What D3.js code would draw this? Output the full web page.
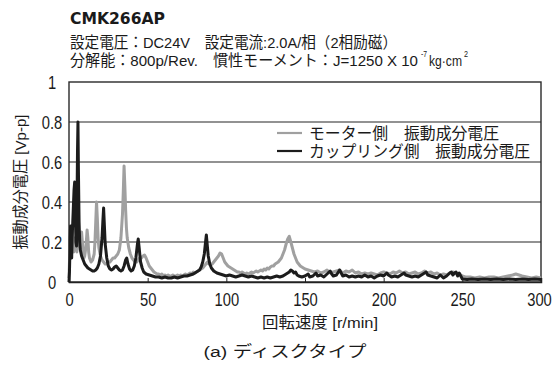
<!DOCTYPE html>
<html lang="ja">
<head>
<meta charset="UTF-8">
<title>CMK266AP</title>
<script src="https://cdn.jsdelivr.net/npm/d3@7"></script>
<style>
  body { margin: 0; background: #fff; }
  svg { display: block; }
  text { font-family: "Liberation Sans", "Noto Sans CJK JP", sans-serif; fill: #1a1a1a; }
</style>
</head>
<body>
<div id="chart"></div>
<script>
// tick values
const xTicks = [0, 50, 100, 150, 200, 250, 300];
const yTicks = [0, 0.2, 0.4, 0.6, 0.8, 1];

// モーター側 振動成分電圧  [r/min, Vp-p]
const motorSide = [
  [0,0.02],[0.5,0.15],[1,0.22],[1.5,0.18],[2,0.27],[2.5,0.2],[3,0.15],[3.5,0.22],[4,0.17],[4.5,0.2],
  [5,0.15],[5.5,0.2],[6,0.26],[6.5,0.18],[7,0.22],[7.5,0.17],[8,0.25],[8.5,0.2],[9,0.15],[9.5,0.12],
  [10,0.13],[10.5,0.16],[11,0.2],[11.5,0.26],[12,0.22],[12.5,0.15],[13,0.12],[14,0.1],[15,0.11],[16,0.14],
  [16.5,0.2],[17,0.3],[17.5,0.4],[18,0.32],[18.5,0.22],[19,0.17],[20,0.13],[21,0.11],[22,0.1],[23,0.09],
  [24,0.09],[25,0.1],[26,0.1],[27,0.11],[28,0.12],[29,0.12],[30,0.13],[31,0.14],[32,0.16],[33,0.22],
  [34,0.34],[34.5,0.45],[35,0.58],[35.5,0.48],[36,0.36],[36.5,0.27],[37,0.22],[38,0.17],[39,0.14],[40,0.12],
  [41,0.11],[42,0.1],[43,0.1],[44,0.11],[45,0.12],[46,0.12],[47,0.13],[48,0.135],[49,0.12],[50,0.1],
  [51,0.08],[52,0.07],[53,0.06],[54,0.05],[55,0.045],[56,0.04],[57,0.04],[58,0.035],[59,0.04],[60,0.03],
  [61,0.035],[62,0.03],[63,0.035],[64,0.03],[65,0.03],[66,0.035],[67,0.03],[68,0.03],[69,0.035],[70,0.03],
  [71,0.035],[72,0.03],[73,0.035],[74,0.04],[75,0.035],[76,0.04],[77,0.045],[78,0.04],[79,0.05],[80,0.045],
  [81,0.05],[82,0.055],[83,0.06],[84,0.065],[85,0.07],[86,0.08],[87,0.09],[88,0.1],[89,0.09],[90,0.085],
  [91,0.09],[92,0.1],[93,0.11],[94,0.12],[95,0.13],[96,0.145],[97,0.14],[98,0.12],[99,0.1],[100,0.09],
  [101,0.08],[102,0.075],[103,0.07],[104,0.065],[105,0.06],[106,0.055],[107,0.05],[108,0.05],[109,0.045],[110,0.05],
  [111,0.045],[112,0.04],[113,0.045],[114,0.04],[115,0.045],[116,0.05],[117,0.045],[118,0.05],[119,0.055],[120,0.05],
  [121,0.055],[122,0.06],[123,0.055],[124,0.065],[125,0.06],[126,0.07],[127,0.065],[128,0.075],[129,0.08],[130,0.08],
  [131,0.09],[132,0.095],[133,0.1],[134,0.11],[135,0.12],[136,0.14],[137,0.16],[138,0.19],[139,0.215],[140,0.228],
  [141,0.2],[142,0.17],[143,0.14],[144,0.12],[145,0.1],[146,0.09],[147,0.08],[148,0.075],[149,0.07],[150,0.065],
  [152,0.06],[154,0.055],[156,0.05],[158,0.055],[160,0.045],[162,0.05],[164,0.06],[166,0.045],[168,0.05],[170,0.055],
  [172,0.06],[174,0.045],[176,0.055],[178,0.05],[180,0.06],[182,0.045],[184,0.05],[186,0.04],[188,0.045],[190,0.04],
  [192,0.045],[194,0.04],[196,0.035],[198,0.045],[200,0.05],[202,0.045],[204,0.04],[206,0.05],[208,0.045],[210,0.055],
  [212,0.045],[214,0.05],[216,0.04],[218,0.045],[220,0.05],[222,0.04],[224,0.045],[226,0.055],[228,0.045],[230,0.05],
  [232,0.04],[234,0.045],[236,0.035],[238,0.04],[240,0.035],[242,0.045],[244,0.05],[246,0.045],[248,0.04],[250,0.03],
  [252,0.025],[255,0.025],[258,0.02],[261,0.025],[264,0.02],[267,0.025],[270,0.025],[273,0.02],[276,0.025],[279,0.03],
  [282,0.035],[284,0.04],[286,0.035],[288,0.03],[291,0.025],[294,0.02],[297,0.025],[300,0.02]
];

// カップリング側 振動成分電圧  [r/min, Vp-p]
const couplingSide = [
  [0,0],[0.3,0.05],[0.7,0.2],[1,0.28],[1.3,0.18],[1.7,0.12],[2,0.22],[2.4,0.3],[2.8,0.38],[3.2,0.46],
  [3.6,0.5],[4,0.35],[4.4,0.2],[4.8,0.18],[5.1,0.4],[5.4,0.65],[5.7,0.8],[6,0.55],[6.4,0.3],[6.8,0.2],
  [7.2,0.16],[8,0.13],[9,0.11],[10,0.09],[11,0.08],[12,0.07],[13,0.065],[14,0.06],[15,0.055],[16,0.055],
  [17,0.06],[18,0.07],[19,0.09],[20,0.13],[21,0.22],[21.5,0.3],[22,0.37],[22.5,0.28],[23,0.19],[24,0.12],
  [25,0.08],[26,0.065],[27,0.06],[28,0.065],[29,0.075],[30,0.08],[31,0.07],[32,0.06],[33,0.055],[34,0.06],
  [35,0.08],[36,0.11],[36.7,0.12],[37.5,0.09],[38.5,0.065],[39.5,0.055],[40.5,0.06],[41.5,0.08],[42.5,0.12],[43.5,0.19],
  [44,0.215],[44.6,0.17],[45.5,0.1],[46.5,0.07],[47.5,0.05],[49,0.04],[51,0.035],[53,0.03],[55,0.025],[57,0.025],
  [59,0.02],[61,0.025],[63,0.02],[65,0.02],[67,0.025],[69,0.02],[71,0.025],[73,0.03],[75,0.03],[77,0.035],
  [79,0.04],[81,0.05],[83,0.06],[84,0.075],[85,0.1],[86,0.14],[86.8,0.2],[87.3,0.235],[87.8,0.19],[88.5,0.13],
  [89.5,0.09],[90.5,0.07],[92,0.055],[94,0.045],[96,0.04],[98,0.035],[100,0.03],[102,0.035],[104,0.03],[106,0.025],
  [108,0.03],[110,0.035],[112,0.03],[114,0.025],[116,0.03],[118,0.025],[120,0.02],[122,0.025],[124,0.02],[126,0.025],
  [128,0.02],[130,0.025],[132,0.03],[134,0.025],[136,0.03],[138,0.04],[140,0.05],[141,0.06],[142,0.055],[143,0.045],
  [144,0.05],[145,0.035],[146,0.03],[148,0.025],[150,0.03],[152,0.04],[153,0.025],[155,0.03],[157,0.045],[158,0.03],
  [160,0.035],[162,0.025],[164,0.04],[166,0.055],[167,0.04],[168,0.03],[170,0.035],[172,0.06],[173,0.045],[174,0.03],
  [176,0.035],[178,0.025],[180,0.03],[182,0.025],[184,0.03],[186,0.025],[188,0.035],[190,0.025],[192,0.03],[194,0.02],
  [196,0.03],[198,0.035],[200,0.03],[202,0.045],[203,0.035],[205,0.025],[207,0.03],[209,0.025],[211,0.035],[213,0.045],
  [214,0.035],[216,0.03],[218,0.025],[220,0.03],[222,0.025],[224,0.035],[226,0.045],[227,0.05],[228,0.035],[230,0.03],
  [232,0.025],[234,0.02],[236,0.035],[238,0.02],[240,0.03],[242,0.045],[243,0.05],[244,0.035],[245,0.045],[246,0.05],
  [247,0.03],[248,0.045],[249,0.03],[250,0.015],[253,0.012],[256,0.015],[260,0.012],[264,0.015],[268,0.012],[272,0.015],
  [276,0.012],[280,0.015],[284,0.012],[288,0.015],[292,0.012],[296,0.015],[300,0.012]
];

const seriesNames = ["モーター側　振動成分電圧", "カップリング側　振動成分電圧"];
const seriesColors = ["#a0a0a0", "#1c1c1c"];

const W = 552, H = 369;
const plotL = 69, plotR = 541, plotT = 82, plotB = 282;

const svg = d3.select("#chart").append("svg")
  .attr("width", W).attr("height", H);

const x = d3.scaleLinear().domain([0, 300]).range([plotL, plotR]);
const y = d3.scaleLinear().domain([0, 1]).range([plotB, plotT]);

// plain text helper, squeezed to the measured width
function label(txt, px, py, len, size, anchor) {
  return svg.append("text")
    .attr("x", px).attr("y", py)
    .attr("text-anchor", anchor || "start")
    .attr("textLength", len).attr("lengthAdjust", "spacingAndGlyphs")
    .style("font-size", size + "px")
    .text(txt);
}

// header
svg.append("text")
  .attr("x", 70).attr("y", 24)
  .attr("textLength", 95).attr("lengthAdjust", "spacingAndGlyphs")
  .style("font-family", "'DejaVu Sans', sans-serif")
  .style("font-weight", "bold").style("font-size", "16px")
  .text("CMK266AP");

label("設定電圧：DC24V　設定電流:2.0A/相（2相励磁）", 70, 48, 327, 15.5);
label("分解能：800p/Rev.　慣性モーメント：J=1250 X 10", 70, 66, 348, 15.5);
label("-7", 421, 57, 6, 9);
label("kg·cm", 429, 66, 33, 15.5);
label("2", 464, 57, 4, 9);

// horizontal gridlines
svg.append("g").selectAll("line")
  .data(yTicks.filter(d => d > 0 && d < 1))
  .join("line")
  .attr("x1", plotL).attr("x2", plotR)
  .attr("y1", d => y(d)).attr("y2", d => y(d))
  .attr("stroke", "#6e6e6e").attr("stroke-width", 1.3);

// frame
svg.append("rect")
  .attr("x", plotL).attr("y", plotT)
  .attr("width", plotR - plotL).attr("height", plotB - plotT)
  .attr("fill", "none").attr("stroke", "#2a2a2a").attr("stroke-width", 1.4);

// bottom axis with inward ticks
const xAxis = svg.append("g")
  .attr("transform", `translate(0,${plotB})`)
  .call(d3.axisBottom(x).tickValues(xTicks).tickSize(-4).tickPadding(12).tickFormat(d3.format("d")));
xAxis.select(".domain").attr("stroke", "#222").attr("stroke-width", 1.5);
xAxis.selectAll(".tick line").attr("stroke", "#222");
xAxis.selectAll(".tick text")
  .attr("y", 0).attr("dy", 0)
  .attr("transform", (d, i) => `translate(${i === xTicks.length - 1 ? -2 : 0},24) scale(0.82,1)`)
  .style("font-size", "18px").style("fill", "#1a1a1a");

// left axis labels
const yAxis = svg.append("g")
  .attr("transform", `translate(${plotL},0)`)
  .call(d3.axisLeft(y).tickValues(yTicks).tickSize(0).tickFormat(d => d3.format("")(d)));
yAxis.select(".domain").remove();
yAxis.selectAll(".tick text")
  .attr("x", 0).attr("dy", 0)
  .attr("text-anchor", "middle")
  .attr("transform", "translate(-17,6.5) scale(0.82,1)")
  .style("font-size", "18px").style("fill", "#1a1a1a");

// series
const lineGen = d3.line().x(d => x(d[0])).y(d => y(d[1]));
[motorSide, couplingSide].forEach((s, i) => {
  svg.append("path")
    .datum(s)
    .attr("d", lineGen)
    .attr("fill", "none")
    .attr("stroke", seriesColors[i])
    .attr("stroke-width", 3)
    .attr("stroke-linejoin", "round");
});

// legend
seriesNames.forEach((name, i) => {
  const ly = 133 + i * 18;
  svg.append("line")
    .attr("x1", 277).attr("x2", 302).attr("y1", ly).attr("y2", ly)
    .attr("stroke", seriesColors[i]).attr("stroke-width", 2.2);
  label(name, 309, ly + 6, i === 0 ? 190 : 221, 16);
});

// axis titles
label("振動成分電圧 [Vp-p]", 0, 0, 135, 15.5, "middle")
  .attr("transform", "translate(26,182) rotate(-90)");
label("回転速度 [r/min]", 320, 328, 116, 15.5, "middle");

// caption
label("(a)  ディスクタイプ", 285, 357, 163, 15.5, "middle");
</script>
</body>
</html>
